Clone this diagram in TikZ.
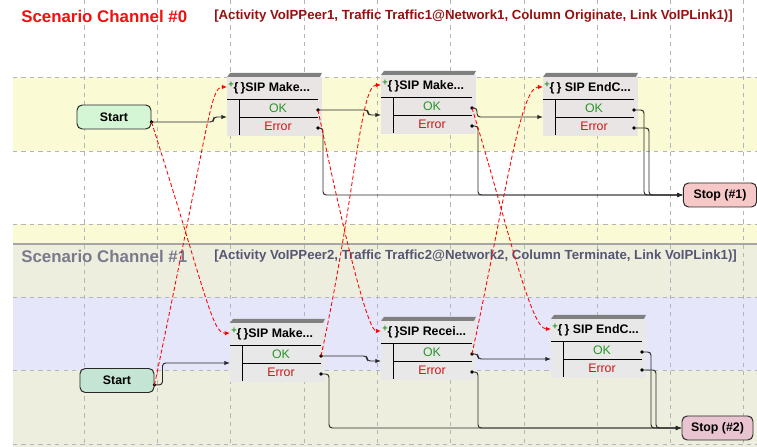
\documentclass[tikz,border=0pt]{standalone}
\usepackage{fontspec}
\setmainfont{Liberation Sans}
\usetikzlibrary{arrows.meta}

\definecolor{titlered}{RGB}{240,16,16}
\definecolor{infored}{RGB}{150,16,16}
\definecolor{titlegray}{RGB}{122,122,140}
\definecolor{infogray}{RGB}{86,86,116}
\definecolor{yband}{RGB}{250,250,212}
\definecolor{lavback}{RGB}{230,230,250}
\definecolor{lavband}{RGB}{238,238,222}
\definecolor{gridcol}{RGB}{180,180,190}
\definecolor{barcol}{RGB}{128,128,128}
\definecolor{body0}{RGB}{234,229,229}
\definecolor{body1}{RGB}{232,232,232}
\definecolor{start0}{RGB}{212,246,212}
\definecolor{start1}{RGB}{196,228,212}
\definecolor{stop0}{RGB}{246,200,200}
\definecolor{stop1}{RGB}{232,196,208}
\definecolor{okgreen}{RGB}{40,150,40}
\definecolor{errred}{RGB}{200,24,24}
\definecolor{wirecol}{RGB}{40,40,40}

% one SIP activity block: name, left x, top y, title, body colour
\newcommand{\sipblock}[5]{%
  \begin{scope}[shift={(#2,#3)}]
    \fill[barcol] (3,0) -- (95,0) -- (93,4) -- (0,4) -- cycle;
    \node[sipbody,fill=#5] (#1) at (47.5,33.5) {};
    \draw[sepline] (0,26) -- (91,26);
    \draw[sepline] (12,44) -- (91,44);
    \draw[sepline] (12,26) -- (12,62);
    \node[siptitle] (#1-t) at (1,15)
      {\textcolor{okgreen}{\raisebox{0.7ex}{\scalebox{0.75}{+}}}\{\,\}#4};
    \node[portlbl,text=okgreen] (#1-o) at (51,35) {OK};
    \node[portlbl,text=errred] (#1-e) at (51,53) {Error};
    \coordinate (#1-in) at (0,44);
    \coordinate (#1-sync) at (0,14);
    \coordinate (#1-ok) at (91,37);
    \coordinate (#1-err) at (91,55);
  \end{scope}}

\begin{document}
\begin{tikzpicture}[x=0.25mm,y=-0.25mm,
  gridline/.style={draw=gridcol,dashed,line width=0.4pt},
  chantitle/.style={anchor=west,inner sep=0,font=\fontsize{12}{14}\selectfont\bfseries},
  chaninfo/.style={anchor=west,inner sep=0,font=\fontsize{9.4}{11}\selectfont\bfseries},
  sipbody/.style={inner sep=0,minimum width=23.75mm,minimum height=14.75mm},
  sepline/.style={draw=black,line width=0.6pt},
  siptitle/.style={anchor=west,inner sep=0,font=\fontsize{8.8}{10}\selectfont\bfseries},
  portlbl/.style={inner sep=0,font=\fontsize{8.8}{10}\selectfont},
  termbox/.style={draw=wirecol,line width=0.7pt,rounded corners=1.3mm,inner sep=0,
    minimum height=6mm,font=\fontsize{8.8}{10}\selectfont\bfseries},
  wire/.style={draw=wirecol,line width=0.7pt,rounded corners=0.8mm},
  arr/.style={-{Latex[length=1.4mm,width=1.1mm]}},
  sync/.style={draw=red,line width=0.6pt,dash pattern=on 1mm off 0.6mm,
    -{Latex[length=1.3mm,width=1.1mm]}},
  dot/.style={fill=black}]
  \useasboundingbox (0,0) rectangle (757,447);
  % row bands
  \fill[yband] (13,77) rectangle (757,151);
  \fill[yband] (13,224) rectangle (757,243);
  \fill[lavback] (13,245) rectangle (757,447);
  \fill[lavband] (13,245) rectangle (757,297);
  \fill[lavband] (13,370) rectangle (757,447);
  \foreach \k in {1,...,10}
    \draw[gridline] ({10.7+73.3*\k},0) -- ({10.7+73.3*\k},447);
  \foreach \gy in {77,151,224,297,370,444}
    \draw[gridline] (13,\gy) -- (757,\gy);
  \draw[draw=black!35,line width=1.4pt] (13,244) -- (757,244);

  % channel headers
  \node[chantitle,text=titlered] (ch0) at (21,16) {Scenario Channel \#0};
  \node[chaninfo,text=infored] (ch0info) at (214,16)
    {[Activity VoIPPeer1, Traffic Traffic1@Network1, Column Originate, Link VoIPLink1)]};
  \node[chantitle,text=titlegray] (ch1) at (21,256) {Scenario Channel \#1};
  \node[chaninfo,text=infogray] (ch1info) at (214,256)
    {[Activity VoIPPeer2, Traffic Traffic2@Network2, Column Terminate, Link VoIPLink1)]};

  % terminals
  \node[termbox,fill=start0,minimum width=18.5mm] (start0) at (114,117) {Start};
  \node[termbox,fill=start1,minimum width=18.5mm] (start1) at (117,380.5) {Start};
  \node[termbox,fill=stop0,minimum width=18.3mm] (stop0) at (720,195) {Stop (\#1)};
  \node[termbox,fill=stop1,minimum width=17.75mm] (stop1) at (717.5,428) {Stop (\#2)};
  \coordinate (start0-p) at ([yshift=-1.25mm]start0.east);
  \coordinate (start1-p) at ([yshift=-1.1mm]start1.east);

  % activity blocks
  \sipblock{make0a}{227}{73}{SIP Make...}{body0}
  \sipblock{make0b}{381}{71}{SIP Make...}{body0}
  \sipblock{endc0}{543}{73}{ SIP EndC...}{body0}
  \sipblock{make1}{230}{319}{SIP Make...}{body1}
  \sipblock{recv1}{381}{317}{SIP Recei...}{body1}
  \sipblock{endc1}{551}{315}{ SIP EndC...}{body1}

  % channel 0 flow
  \draw[wire,arr] (start0-p) -- ++(62,0) |- (make0a-in);
  \draw[wire,arr] (make0a-ok) -- ++(50,0) |- (make0b-in);
  \draw[wire,arr] (make0b-ok) -- ++(5,0) |- (endc0-in);
  \draw[wire,arr] (make0a-err) -- ++(5,0) |- (stop0.west);
  \draw[wire,arr] (make0b-err) -- ++(6,0) |- (stop0.west);
  \draw[wire,arr] (endc0-ok) -- ++(10,0) |- (stop0.west);
  \draw[wire,arr] (endc0-err) -- ++(15,0) |- (stop0.west);
  % channel 1 flow
  \draw[wire,arr] (start1-p) -- ++(8,0) |- (make1-in);
  \draw[wire,arr] (make1-ok) -- ++(46,0) |- (recv1-in);
  \draw[wire,arr] (recv1-ok) -- ++(6,0) |- (endc1-in);
  \draw[wire,arr] (make1-err) -- ++(8,0) |- (stop1.west);
  \draw[wire,arr] (recv1-err) -- ++(6,0) |- (stop1.west);
  \draw[wire,arr] (endc1-ok) -- ++(9,0) |- (stop1.west);
  \draw[wire,arr] (endc1-err) -- ++(14,0) |- (stop1.west);

  % output ports
  \foreach \p in {start0-p,start1-p,make0a-ok,make0a-err,make0b-ok,make0b-err,
    endc0-ok,endc0-err,make1-ok,make1-err,recv1-ok,recv1-err,endc1-ok,endc1-err}
    \fill[dot] (\p) circle[radius=0.45mm];

  % cross-channel sync
  \draw[sync] (start0-p) .. controls (205,290) and (212,334) .. (make1-sync);
  \draw[sync] (start1-p) .. controls (208,130) and (210,87) .. (make0a-sync);
  \draw[sync] (make0a-ok) .. controls (345,240) and (368,331) .. (recv1-sync);
  \draw[sync] (make1-ok) .. controls (355,200) and (360,85) .. (make0b-sync);
  \draw[sync] (make0b-ok) .. controls (505,215) and (530,329) .. (endc1-sync);
  \draw[sync] (recv1-ok) .. controls (505,200) and (520,87) .. (endc0-sync);
\end{tikzpicture}
\end{document}
